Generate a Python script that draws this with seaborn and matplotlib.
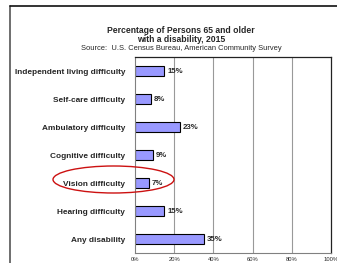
import pandas as pd
import matplotlib
matplotlib.use("Agg")
import matplotlib.pyplot as plt
from matplotlib.patches import Ellipse
import seaborn as sns

# data
categories = ["Independent living difficulty", "Self-care difficulty", "Ambulatory difficulty",
              "Cognitive difficulty", "Vision difficulty", "Hearing difficulty", "Any disability"]
percent = [15, 8, 23, 9, 7, 15, 35]
x_ticks = [0, 20, 40, 60, 80, 100]
x_tick_labels = ["0%", "20%", "40%", "60%", "80%", "100%"]

df = pd.DataFrame({"category": categories, "percent": percent})

sns.set_style("white")
plt.rcParams["font.family"] = ["Liberation Sans", "DejaVu Sans"]

fig = plt.figure(figsize=(3.37, 2.63), dpi=100)
ax = fig.add_axes([135 / 337, 1 - 253 / 263, 196 / 337, 196 / 263])

sns.barplot(data=df, y="category", x="percent", orient="h", color="#9999FF",
            edgecolor="#000000", linewidth=0.8, width=0.33, saturation=1, ax=ax)

for i, v in enumerate(percent):
    ax.text(v + 1.5, i, f"{v}%", va="center", ha="left", fontsize=5.6, fontweight="bold")

ax.set_xlim(0, 100)
ax.set_xticks(x_ticks)
ax.set_xticklabels(x_tick_labels, fontsize=4.2)
ax.set_xlabel("")
ax.set_ylabel("")
ax.set_yticks(range(len(categories)))
ax.set_yticklabels(categories, fontsize=5.95, fontweight="bold")
ax.set_yticks([i + 0.5 for i in range(-1, len(categories))], minor=True)
ax.tick_params(axis="y", which="major", length=0, pad=7)
ax.tick_params(axis="y", which="minor", length=2, color="#808080", width=0.6)
ax.tick_params(axis="x", length=0, pad=3)
ax.set_ylim(len(categories) - 0.5, -0.5)

for g in [20, 40, 60, 80]:
    ax.axvline(g, color="#999999", lw=0.8, zorder=0)

for side in ["left", "bottom"]:
    ax.spines[side].set_color("#808080")
    ax.spines[side].set_linewidth(0.8)
for side in ["top", "right"]:
    ax.spines[side].set_color("#222222")
    ax.spines[side].set_linewidth(0.9)

# titles
fig.text(181 / 337, 1 - 35 / 263, "Percentage of Persons 65 and older\nwith a disability, 2015",
         ha="center", va="center", fontsize=6.2, fontweight="bold", linespacing=1.12)
fig.text(181 / 337, 1 - 48.5 / 263, "Source:  U.S. Census Bureau, American Community Survey",
         ha="center", va="center", fontsize=5.4)

# slide frame lines
fig.add_artist(plt.Line2D([10 / 337, 10 / 337], [0, 1 - 6 / 263], color="#555555", lw=1.2))
fig.add_artist(plt.Line2D([10 / 337, 1], [1 - 6 / 263, 1 - 6 / 263], color="#111111", lw=1.2))

# red ellipse highlighting vision difficulty
fig.add_artist(Ellipse((113.5 / 337, 1 - 179.5 / 263), 121 / 337, 27 / 263,
                       fill=False, edgecolor="#CC1111", lw=1.0, transform=fig.transFigure))

fig.savefig("out.png", dpi=100)
